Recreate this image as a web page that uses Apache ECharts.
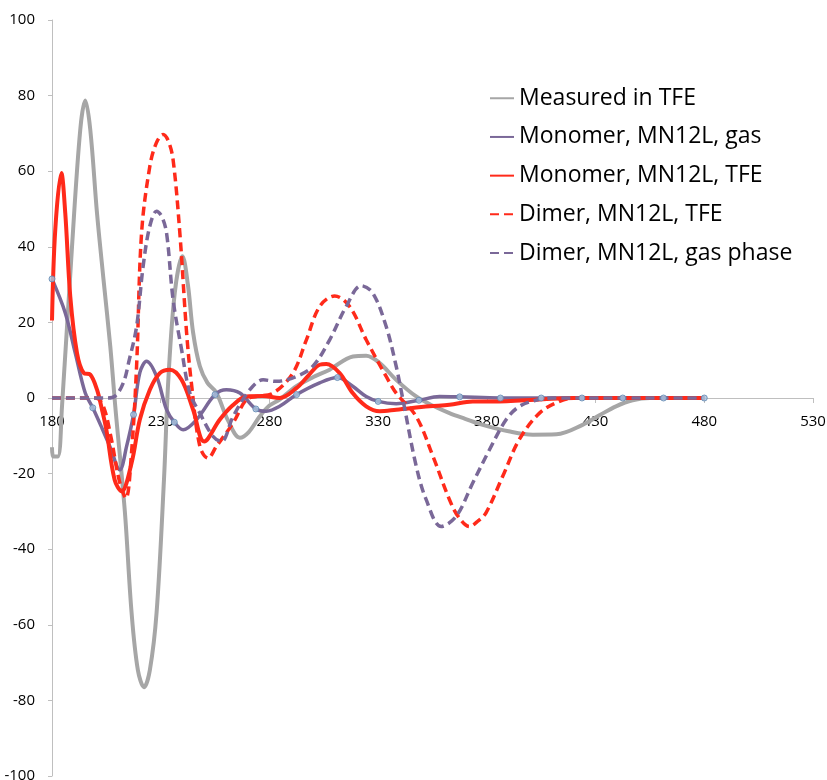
<!DOCTYPE html>
<html>
<head>
<meta charset="utf-8">
<script src="https://cdn.jsdelivr.net/npm/echarts@6/dist/echarts.min.js"></script>
<style>
html,body{margin:0;padding:0;background:#fff;overflow:hidden;}
#chart{width:827px;height:780px;}
</style>
</head>
<body>
<div id="chart"></div>
<script>
// ---- Data (wavelength in nm, signal) ----
const seriesNames = ["Measured in TFE", "Monomer, MN12L, gas", "Monomer, MN12L, TFE", "Dimer, MN12L, TFE", "Dimer, MN12L, gas phase"];

const measuredX = [180, 180.6, 182.7, 184.6, 189.2, 193, 195.3, 197.6, 200.7, 203.7, 206.8, 209.1, 213.5, 216.6, 219.5, 222.3, 225, 228.1, 231.5, 233.5, 236.5, 240, 242.5, 244.9, 248, 251.5, 255.6, 261, 266.4, 270.5, 275.5, 280, 284.7, 292.4, 300, 307.7, 318.4, 324.5, 330.6, 338.3, 347.5, 355, 362.8, 370, 378.1, 390, 401.1, 412, 424, 432, 439.4, 447, 455, 465, 480];
const measuredY = [-13, -15.5, -15.5, -2.2, 40, 71, 78.7, 71, 48.9, 31.3, 13.7, -2.2, -30, -56.8, -72, -76.5, -72, -56.8, -21.6, 4.8, 28, 37.5, 30, 17.3, 8.4, 4, 1.4, -6, -10.5, -9, -4.9, -2, -0.4, 3.1, 5.5, 7.5, 11, 11.2, 9.3, 4.8, 0.4, -2, -4, -5.5, -7.1, -8.8, -9.7, -9.6, -7.1, -4.5, -2.2, -0.6, 0, 0, 0];

const monoGasX = [180, 186.1, 190.7, 195.3, 198.75, 203, 206.6, 211.2, 214.3, 217.5, 220.4, 223.5, 228.1, 232.7, 236.25, 240.3, 246.5, 255, 260.2, 266.4, 273.75, 278.6, 284.7, 292.5, 303.1, 311.25, 318.3, 324.5, 330, 338.3, 348.75, 358.2, 367.5, 386.25, 405, 480];
const monoGasY = [31.5, 22.5, 11.9, 1.3, -2.6, -8, -12.8, -19, -12.8, -4.4, 6.7, 9.7, 5.7, -3.1, -6.4, -8.4, -5.7, 0.9, 2.2, 1.3, -2.9, -3.5, -2.2, 0.9, 4, 5.4, 3.1, 0.4, -0.9, -1.5, -0.6, 0.4, 0.3, 0, 0, 0];

const markerX = [180, 198.75, 217.5, 236.25, 255, 273.75, 292.5, 311.25, 330, 348.75, 367.5, 386.25, 405, 423.75, 442.5, 461.25, 480];
const markerY = [31.5, -2.6, -4.4, -6.4, 0.9, -2.9, 0.9, 5.4, -0.9, -0.6, 0.3, 0, 0, 0, 0, 0, 0];

const monoTfeX = [180, 181.5, 184.3, 186.1, 188.4, 191.5, 194.6, 197.6, 200.7, 203, 205, 208.8, 212, 216.6, 220.4, 225, 229.6, 234.2, 239.6, 244.9, 250, 257.2, 263, 269.4, 277, 284.7, 292.4, 298, 303.1, 306.2, 312.3, 318.3, 324.5, 330.7, 338.3, 353.6, 362.8, 373.5, 382.8, 405.8, 420, 480];
const monoTfeY = [20.5, 44.5, 59.5, 48.9, 26.9, 11.9, 6.6, 6.2, 2.2, -3.1, -8.4, -21.6, -24.7, -17.2, -5.7, 2.2, 6.6, 7.5, 4.8, -3.1, -11.5, -5.7, -2, 0.4, 0.5, 0, 2.6, 6, 8.8, 9, 6.6, 1.3, -2.2, -3.5, -3.1, -2.2, -1.8, -0.9, -0.9, -0.3, 0, 0];

const dimerTfeX = [180, 200, 203.5, 207, 211, 214, 216.5, 218.9, 221.2, 225, 228, 231.1, 233.5, 235.7, 238.8, 241.9, 244.1, 248, 251.8, 255.6, 263.3, 269.4, 274, 281.7, 290.8, 297, 303.1, 310, 316.9, 324.5, 333.7, 338.3, 347.5, 355.2, 362.8, 367, 372, 376, 379.6, 387.3, 394.9, 404.2, 413.4, 420, 480];
const dimerTfeY = [0, 0, -2, -10, -22, -26.5, -15, 8.4, 43.7, 61.3, 67.5, 69.7, 68, 63, 43.6, 17.3, 4, -12.8, -15.9, -12.8, -6.6, -0.4, 0.4, 1.3, 6.6, 15.4, 24.2, 27, 24.2, 15.4, 5.7, 1.3, -4.9, -15.4, -26.9, -31.5, -34, -32.5, -30.4, -20.7, -11, -4, -0.9, 0, 0];

const dimerGasX = [180, 205, 209, 212.8, 215.5, 218.9, 221.9, 225, 228.1, 230.5, 232.7, 235.7, 239.6, 243.4, 248, 254.1, 257.9, 263.3, 271, 277.1, 283.2, 292.4, 300, 307.7, 315.3, 322.2, 327.5, 333.7, 338.3, 341.4, 347.5, 352.1, 359, 365.9, 373.5, 381.2, 388.9, 395, 402.6, 410, 480];
const dimerGasY = [0, 0, 0.5, 4, 10, 18.9, 34.8, 45.5, 49.4, 48, 43.6, 26, 12.8, 1.3, -4, -10.2, -11.5, -4.9, 2.2, 4.8, 4.4, 5.7, 8.4, 15.4, 24.2, 29.7, 27.8, 18.9, 8.4, -0.4, -18, -26.9, -34, -31.3, -22.5, -13.7, -5.7, -2.2, -0.6, 0, 0];

const xTicks = [180, 230, 280, 330, 380, 430, 480, 530];
const yTicks = [-100, -80, -60, -40, -20, 0, 20, 40, 60, 80, 100];

function pairs(xs, ys) { return xs.map((x, i) => [x, ys[i]]); }

const FONT = "Open Sans";
const colors = { gray: "#A6A6A6", purple: "#7A6898", red: "#FF2A1A" };

function lineSeries(name, xs, ys, color, dashed, width) {
  return {
    name: name,
    type: "line",
    data: pairs(xs, ys),
    smooth: 0.35,
    showSymbol: false,
    symbol: "none",
    lineStyle: { color: color, width: width, type: dashed ? [9, 5] : "solid", cap: "butt", join: "round" },
    itemStyle: { color: color },
    emphasis: { disabled: true },
    animation: false
  };
}

const chart = echarts.init(document.getElementById("chart"), null, { renderer: "canvas" });
const H = chart.getHeight();
const gridTop = 20, gridBottom = 4;
const plotH = H - gridTop - gridBottom;
// x axis sits on y = 0 of the value axis
const zeroOffset = -plotH * (0 - yTicks[0]) / (yTicks[yTicks.length - 1] - yTicks[0]);

chart.setOption({
  backgroundColor: "#ffffff",
  animation: false,
  grid: { left: 52, right: 14, top: gridTop, bottom: gridBottom, containLabel: false, outerBoundsMode: "none" },
  xAxis: {
    type: "value",
    position: "bottom",
    offset: zeroOffset,
    min: xTicks[0],
    max: xTicks[xTicks.length - 1],
    interval: 50,
    axisLine: { onZero: false, lineStyle: { color: "#BFBFBF", width: 1 } },
    axisTick: { show: true, inside: false, length: 5, lineStyle: { color: "#BFBFBF" } },
    axisLabel: { color: "#000", fontFamily: FONT, fontSize: 15, margin: 16 },
    splitLine: { show: false }
  },
  yAxis: {
    type: "value",
    min: yTicks[0],
    max: yTicks[yTicks.length - 1],
    interval: 20,
    axisLine: { show: true, onZero: false, lineStyle: { color: "#BFBFBF", width: 1 } },
    axisTick: { show: true, length: 4, lineStyle: { color: "#BFBFBF" } },
    axisLabel: { color: "#000", fontFamily: FONT, fontSize: 15, margin: 17 },
    splitLine: { show: false }
  },
  legend: {
    data: seriesNames,
    orient: "vertical",
    left: 484,
    top: 81,
    itemWidth: 24,
    itemHeight: 14,
    itemGap: 14.2,
    itemStyle: { opacity: 0 },
    textStyle: { color: "#000", fontFamily: FONT, fontSize: 23, lineHeight: 24.5 },
    selectedMode: false
  },
  series: [
    lineSeries(seriesNames[0], measuredX, measuredY, colors.gray, false, 4),
    lineSeries(seriesNames[1], monoGasX, monoGasY, colors.purple, false, 3.5),
    lineSeries(seriesNames[2], monoTfeX, monoTfeY, colors.red, false, 4),
    lineSeries(seriesNames[3], dimerTfeX, dimerTfeY, colors.red, true, 3.5),
    lineSeries(seriesNames[4], dimerGasX, dimerGasY, colors.purple, true, 3.5),
    {
      name: "markers",
      type: "scatter",
      data: pairs(markerX, markerY),
      symbol: "circle",
      symbolSize: 6,
      itemStyle: { color: "#A9C4E0", borderColor: "#5F86B0", borderWidth: 1 },
      z: 5,
      emphasis: { disabled: true },
      animation: false
    }
  ]
});
</script>
</body>
</html>
